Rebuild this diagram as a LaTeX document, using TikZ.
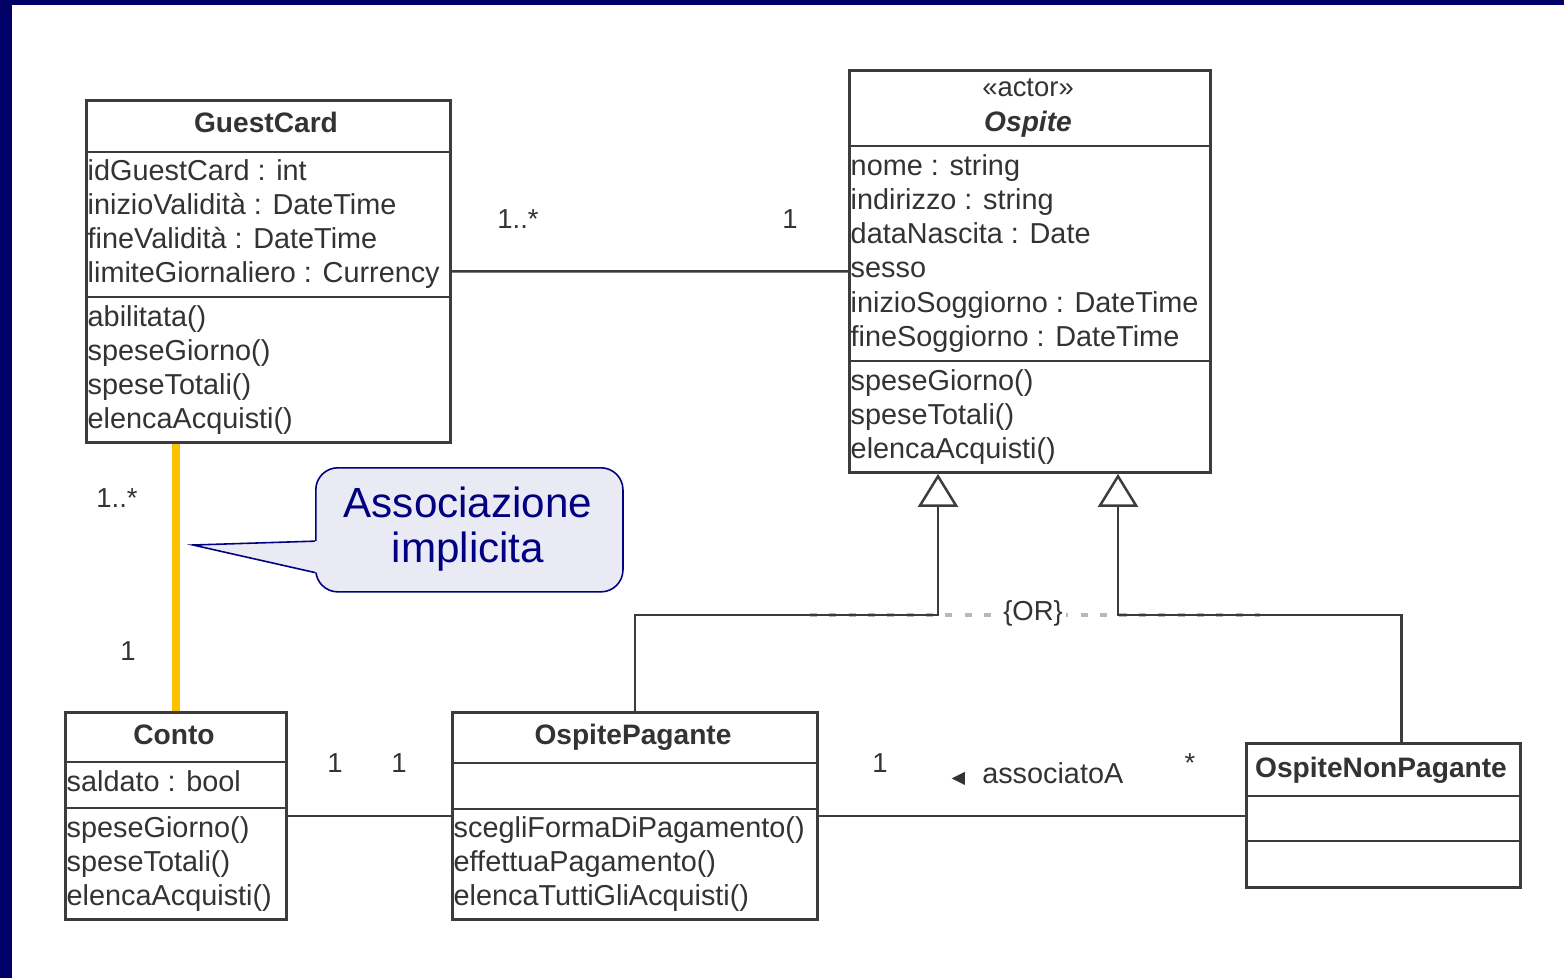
\documentclass[tikz,border=0pt]{standalone}
\usepackage{fontspec}
\setmainfont{Liberation Sans}
\newfontfamily\symfont{DejaVu Sans}
\usetikzlibrary{arrows.meta,calc}
\definecolor{navyband}{HTML}{000066}
\definecolor{boxgray}{HTML}{3C3C3C}
\definecolor{txtgray}{HTML}{333333}
\definecolor{orangeline}{HTML}{FFC000}
\definecolor{callfill}{HTML}{EAEAF4}
\definecolor{callnavy}{HTML}{000080}
\begin{document}
\begin{tikzpicture}[x=0.01cm,y=-0.01cm,
  umlbox/.style={draw=boxgray, line width=0.75pt, fill=white, inner sep=0pt, anchor=north west},
  sepline/.style={draw=boxgray, line width=0.75pt},
  txt/.style={anchor=base west, inner sep=0pt, font=\fontsize{8.2}{9}\selectfont, text=txtgray},
  ttl/.style={anchor=base, inner sep=0pt, font=\fontsize{8}{9}\selectfont\bfseries, text=txtgray},
  mult/.style={anchor=base, inner sep=0pt, font=\fontsize{7.8}{9}\selectfont, text=txtgray},
  conn/.style={draw=boxgray, line width=0.7pt},
  gen/.style={conn, -{Triangle[open, length=0.33cm, width=0.4cm, fill=white]}},
]
\useasboundingbox (0,0) rectangle (1564,978);
\fill[white] (0,0) rectangle (1564,978);
\fill[navyband] (0,0) rectangle (1564,5);
\fill[navyband] (0,0) rectangle (12,978);

% ---------- boxes
\node[umlbox, minimum width=3.64cm, minimum height=3.42cm] (gc) at (85,99) {};
\node[umlbox, minimum width=3.61cm, minimum height=4.02cm] (os) at (848,69) {};
\node[umlbox, minimum width=2.21cm, minimum height=2.07cm] (conto) at (64,711) {};
\node[umlbox, minimum width=3.65cm, minimum height=2.07cm] (op) at (451,711) {};
\node[umlbox, minimum width=2.74cm, minimum height=1.44cm] (onp) at (1245,742) {};

% separators
\draw[sepline] (gc.west |- 0,152) -- (gc.east |- 0,152);
\draw[sepline] (gc.west |- 0,297) -- (gc.east |- 0,297);
\draw[sepline] (os.west |- 0,146) -- (os.east |- 0,146);
\draw[sepline] (os.west |- 0,361) -- (os.east |- 0,361);
\draw[sepline] (conto.west |- 0,762) -- (conto.east |- 0,762);
\draw[sepline] (conto.west |- 0,808) -- (conto.east |- 0,808);
\draw[sepline] (op.west |- 0,763) -- (op.east |- 0,763);
\draw[sepline] (op.west |- 0,809) -- (op.east |- 0,809);
\draw[sepline] (onp.west |- 0,796) -- (onp.east |- 0,796);
\draw[sepline] (onp.west |- 0,841) -- (onp.east |- 0,841);

% ---------- texts
\node[ttl] (gct) at (266,132) {GuestCard};
\foreach \t [count=\i] in {idGuestCard : int, inizioValidità : DateTime, fineValidità : DateTime, limiteGiornaliero : Currency}
  \node[txt] (gca\i) at (87,{180+34.3*(\i-1)}) {\t};
\foreach \t [count=\i] in {abilitata(), speseGiorno(), speseTotali(), elencaAcquisti()}
  \node[txt] (gcm\i) at (87,{326+34.3*(\i-1)}) {\t};

\node[mult] (ost) at (1028,96) {«actor»};
\node[ttl, font=\fontsize{8}{9}\selectfont\bfseries\itshape] (osn) at (1028,131) {Ospite};
\foreach \t [count=\i] in {nome : string, indirizzo : string, dataNascita : Date, sesso, inizioSoggiorno : DateTime, fineSoggiorno : DateTime}
  \node[txt] (osa\i) at (850,{175+34.3*(\i-1)}) {\t};
\foreach \t [count=\i] in {speseGiorno(), speseTotali(), elencaAcquisti()}
  \node[txt] (osm\i) at (850,{390+34.3*(\i-1)}) {\t};

\node[ttl] (cot) at (174,744) {Conto};
\node[txt] (coa1) at (66,791) {saldato : bool};
\foreach \t [count=\i] in {speseGiorno(), speseTotali(), elencaAcquisti()}
  \node[txt] (com\i) at (66,{837+34.3*(\i-1)}) {\t};

\node[ttl] (opt) at (633,744) {OspitePagante};
\foreach \t [count=\i] in {scegliFormaDiPagamento(), effettuaPagamento(), elencaTuttiGliAcquisti()}
  \node[txt] (opm\i) at (453,{837+34.3*(\i-1)}) {\t};

\node[ttl] (onpt) at (1381,777) {OspiteNonPagante};

% ---------- generalization constraint
\draw[gray!55, line width=1.1pt, dash pattern=on 2pt off 3.5pt] (810,615) -- (1260,615);
\coordinate (g1) at (938,615);
\coordinate (g2) at (1118,615);
\coordinate (t1) at (g1 |- os.south);
\coordinate (t2) at (g2 |- os.south);
\coordinate (b2) at ($(onp.north west)!0.566!(onp.north east)$);
\draw[gen] (op.north) |- (g1) -- (t1);
\draw[gen] (b2) |- (g2) -- (t2);
\node[mult, anchor=center, fill=white, inner sep=1pt] (orl) at (1033,613) {\{OR\}};

% ---------- associations
\draw[conn] (gc.east) -- (os.west);
\node[mult] (m1) at (518,228) {1..*};
\node[mult] (m2) at (790,228) {1};

\draw[orangeline, line width=2.3pt] (conto.north) -- (conto.north |- gc.south);
\node[mult] (m3) at (117,507) {1..*};
\node[mult] (m4) at (128,660) {1};

\draw[conn] (conto.east) -- (op.west);
\node[mult] (m5) at (335,772) {1};
\node[mult] (m6) at (399,772) {1};

\draw[conn] (op.east) -- (op.east -| onp.west);
\node[mult] (m7) at (880,772) {1};
\node[txt] (assoc) at (951,783) {{\symfont\fontsize{5}{6}\selectfont ◀}\hspace{0.17cm}associatoA};
\node[mult] (m8) at (1190,772) {*};

% ---------- callout
\node[draw=callnavy, line width=0.45pt, fill=callfill, rounded corners=0.22cm,
      minimum width=3.07cm, minimum height=1.24cm, anchor=north west] (cb) at (315,467) {};
\node[align=center, text=callnavy, font=\fontsize{12}{12.8}\selectfont, inner sep=0pt] (cbt) at (468,529) {Associazione\\implicita};
\coordinate (tip) at (193,545);
\coordinate (j1) at ($(cb.north west)!0.59!(cb.south west)$);
\coordinate (j2) at ($(cb.north west)!0.84!(cb.south west)$);
\fill[callfill] ($(j1)+(2,0)$) -- (tip) -- ($(j2)+(2,0)$) -- cycle;
\draw[callnavy, line width=0.45pt] (j1) -- (tip) -- (j2);
\end{tikzpicture}
\end{document}
